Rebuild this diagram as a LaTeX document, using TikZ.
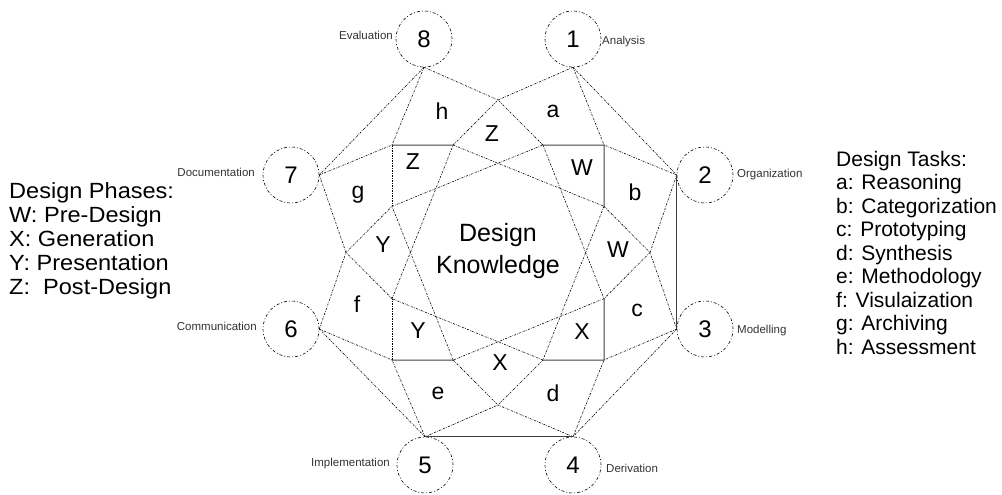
\documentclass[tikz,border=0pt]{standalone}
\usepackage{fontspec}
\setmainfont{Liberation Sans}
\newfontfamily\widefont[FakeStretch=1.07]{Liberation Sans}
\begin{document}
\begin{tikzpicture}[x=1pt,y=-1pt,
 dl/.style={line width=0.6pt, dash pattern=on 2pt off 1.2pt on 0.6pt off 1.2pt},
 sl/.style={line width=1pt, black!75},
 phase/.style={circle, draw, minimum size=56pt, inner sep=0pt, line width=0.6pt, dash pattern=on 3pt off 2pt on 1pt off 2pt, font=\fontsize{24}{24}\selectfont},
 reg/.style={font=\fontsize{23}{23}\selectfont, inner sep=0pt},
 small/.style={font=\fontsize{11.5}{12}\selectfont, text=black!80, inner sep=0pt},
 leg/.style={font=\fontsize{21}{21}\selectfont, anchor=base west, inner sep=0pt},
 legl/.style={font=\widefont\fontsize{22}{22}\selectfont, anchor=base west, inner sep=0pt}]
\useasboundingbox (0,0) rectangle (1002,495);

% outer phase circles
\node[phase] (c8) at (424,39) {8};
\node[phase] (c1) at (573,39) {1};
\node[phase] (c2) at (705,175) {2};
\node[phase] (c3) at (705,329) {3};
\node[phase] (c4) at (573,465) {4};
\node[phase] (c5) at (425,465) {5};
\node[phase] (c6) at (291,329) {6};
\node[phase] (c7) at (291,175) {7};

% small labels
\node[small, anchor=east] (l8) at (393,35) {Evaluation};
\node[small, anchor=west] (l1) at (602,42) {Analysis};
\node[small, anchor=west] (l2) at (737,175) {Organization};
\node[small, anchor=west] (l3) at (737,331) {Modelling};
\node[small, anchor=west] (l4) at (606,468) {Derivation};
\node[small, anchor=east] (l5) at (390,464) {Implementation};
\node[small, anchor=east] (l6) at (257,326) {Communication};
\node[small, anchor=east] (l7) at (255,172) {Documentation};

% inner skeleton
\coordinate (A) at (392,145);
\coordinate (B) at (604,145);
\coordinate (C) at (604,360);
\coordinate (D) at (392,360);
\coordinate (T) at (498,100);
\coordinate (R) at (650,252.5);
\coordinate (Bt) at (498,405);
\coordinate (L) at (346,252.5);
\coordinate (O1) at (intersection of A--B and T--L);
\coordinate (O2) at (intersection of A--B and T--R);
\coordinate (O3) at (intersection of B--C and T--R);
\coordinate (O4) at (intersection of B--C and R--Bt);
\coordinate (O5) at (intersection of C--D and R--Bt);
\coordinate (O6) at (intersection of C--D and Bt--L);
\coordinate (O7) at (intersection of D--A and Bt--L);
\coordinate (O8) at (intersection of D--A and T--L);

% dotted inner lines
\draw[dl] (O1) -- (T) -- (O2);
\draw[dl] (O3) -- (R) -- (O4);
\draw[dl] (O5) -- (Bt) -- (O6);
\draw[dl] (O7) -- (L) -- (O8);
\draw[dl] (O1) -- (O3);
\draw[dl] (O3) -- (O5);
\draw[dl] (O5) -- (O7);
\draw[dl] (O7) -- (O1);
\draw[dl] (O2) -- (O4);
\draw[dl] (O4) -- (O6);
\draw[dl] (O6) -- (O8);
\draw[dl] (O8) -- (O2);
\draw[dl] (A) -- (O8);
\draw[dl] (D) -- (O7);

% dotted spokes
\draw[dl] (c8.south) -- (A);
\draw[dl] (c8.south) -- (T);
\draw[dl] (c1.south) -- (T);
\draw[dl] (c1.south) -- (B);
\draw[dl] (c2.west) -- (B);
\draw[dl] (c2.west) -- (R);
\draw[dl] (c3.west) -- (R);
\draw[dl] (c3.west) -- (C);
\draw[dl] (c4.north) -- (C);
\draw[dl] (c4.north) -- (Bt);
\draw[dl] (c5.north) -- (Bt);
\draw[dl] (c5.north) -- (D);
\draw[dl] (c6.east) -- (D);
\draw[dl] (c6.east) -- (L);
\draw[dl] (c7.east) -- (L);
\draw[dl] (c7.east) -- (A);
% dotted ring
\draw[dl] (c8.south) -- (c7.east);
\draw[dl] (c1.south) -- (c2.west);
\draw[dl] (c3.west) -- (c4.north);
\draw[dl] (c5.north) -- (c6.east);

% solid lines
\draw[sl] (A) -- (O1);
\draw[sl] (O2) -- (B) -- (O3);
\draw[sl] (O4) -- (C) -- (O5);
\draw[sl] (O6) -- (D);
\draw[sl] (c2.west) -- (c3.west);
\draw[sl] (c4.north) -- (c5.north);

% region labels
\node[reg] (rh) at (442,111) {h};
\node[reg] (ra) at (553,111) {a};
\node[reg] (rZ1) at (492,134) {Z};
\node[reg] (rZ2) at (413,162) {Z};
\node[reg] (rW1) at (582,168) {W};
\node[reg] (rb) at (635,192) {b};
\node[reg] (rg) at (358,195) {g};
\node[reg] (rY1) at (383,245) {Y};
\node[reg] (rW2) at (618,250) {W};
\node[reg] (rf) at (357,304) {f};
\node[reg] (rc) at (637,310) {c};
\node[reg] (rY2) at (418,331) {Y};
\node[reg] (rX1) at (582,332) {X};
\node[reg] (rX2) at (500,363) {X};
\node[reg] (re) at (438,393) {e};
\node[reg] (rd) at (553,393) {d};

% centre
\node[font=\fontsize{25}{32}\selectfont, align=center, inner sep=0pt] (dk) at (498,251) {Design\\Knowledge};

% legends
\node[legl] (lp0) at (9,198) {Design Phases:};
\node[legl] (lp1) at (9,222) {W: Pre-Design};
\node[legl] (lp2) at (9,246) {X: Generation};
\node[legl] (lp3) at (9,270) {Y: Presentation};
\node[legl] (lp4) at (9,294) {Z:\ \ Post-Design};

\node[leg] (lt0) at (836,166) {Design Tasks:};
\node[leg] (lt1) at (836,189.5) {a: Reasoning};
\node[leg] (lt2) at (836,213) {b: Categorization};
\node[leg] (lt3) at (836,236.5) {c: Prototyping};
\node[leg] (lt4) at (836,260) {d: Synthesis};
\node[leg] (lt5) at (836,283.5) {e: Methodology};
\node[leg] (lt6) at (836,307) {f: Visulaization};
\node[leg] (lt7) at (836,330.5) {g: Archiving};
\node[leg] (lt8) at (836,354) {h: Assessment};
\end{tikzpicture}
\end{document}
